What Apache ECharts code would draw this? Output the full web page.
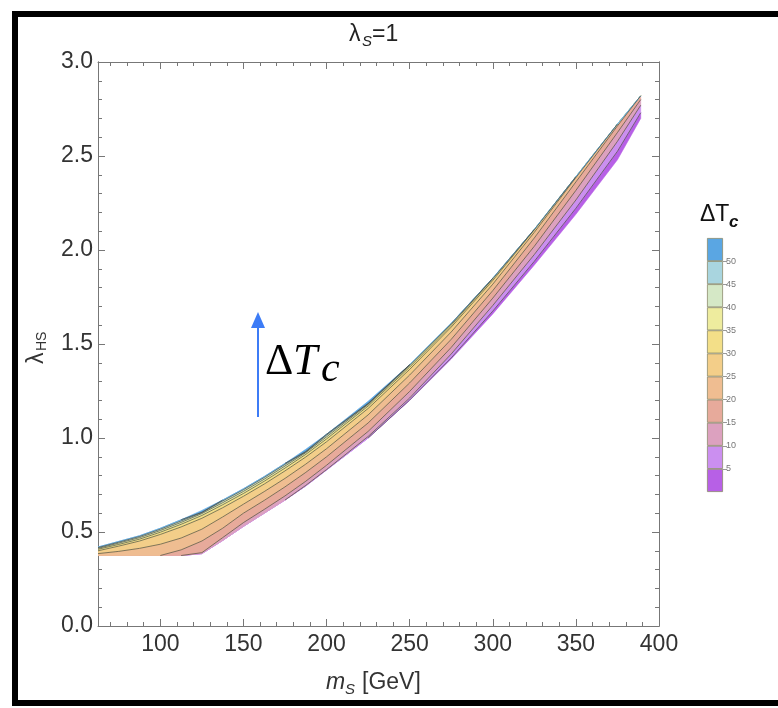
<!DOCTYPE html>
<html><head><meta charset="utf-8">
<script src="https://cdn.jsdelivr.net/npm/echarts@6/dist/echarts.min.js"></script>
<style>html,body{margin:0;padding:0;background:#fff}#c{width:778px;height:708px}</style>
</head><body><div id="c"></div>
<script>
// ---- data ----
const mS = [62.5,75,87.5,100,112.5,125,137.5,150,162.5,175,187.5,200,225,250,275,300,325,350,375,389];
const edgeTop    = [0.42,0.45,0.48,0.52,0.565,0.615,0.67,0.73,0.795,0.865,0.94,1.02,1.195,1.39,1.61,1.85,2.11,2.39,2.67,2.82];
const edgeBottom = [0.375,0.375,0.375,0.375,0.375,0.385,0.455,0.53,0.60,0.67,0.745,0.83,1.00,1.20,1.42,1.66,1.92,2.19,2.48,2.70];
const c5  = [0.375,0.375,0.375,0.375,0.375,0.385,0.455,0.53,0.60,0.67,0.745,0.83,1.00,1.202,1.426,1.675,1.94,2.222,2.525,2.73];
const c10 = [0.375,0.375,0.375,0.375,0.375,0.385,0.455,0.53,0.60,0.67,0.748,0.832,1.008,1.213,1.447,1.705,1.976,2.266,2.578,2.77];
const c15 = [0.375,0.375,0.375,0.375,0.375,0.39,0.47,0.55,0.62,0.692,0.77,0.855,1.035,1.248,1.482,1.744,2.02,2.317,2.625,2.80];
const c20 = [0.375,0.375,0.375,0.375,0.405,0.452,0.52,0.60,0.668,0.74,0.817,0.90,1.08,1.293,1.525,1.784,2.064,2.362,2.66,2.82];
const c25 = [0.385,0.397,0.413,0.435,0.468,0.515,0.58,0.648,0.715,0.785,0.861,0.943,1.123,1.335,1.564,1.818,2.094,2.385,2.67,2.82];
const c30 = [0.40,0.425,0.452,0.487,0.527,0.573,0.629,0.69,0.755,0.825,0.899,0.98,1.157,1.365,1.59,1.838,2.107,2.39,2.67,2.82];
const c35 = [0.408,0.434,0.462,0.499,0.541,0.588,0.645,0.705,0.77,0.84,0.913,0.995,1.17,1.377,1.60,1.847,2.11,2.39,2.67,2.82];
const c40 = [0.413,0.441,0.47,0.508,0.551,0.598,0.656,0.716,0.781,0.851,0.922,1.006,1.178,1.385,1.607,1.85,2.11,2.39,2.67,2.82];
const c45 = [0.417,0.446,0.476,0.515,0.559,0.603,0.665,0.725,0.79,0.86,0.926,1.015,1.182,1.39,1.61,1.85,2.11,2.39,2.67,2.82];
const c50 = [0.42,0.45,0.48,0.52,0.565,0.605,0.67,0.73,0.795,0.865,0.928,1.02,1.184,1.39,1.61,1.85,2.11,2.39,2.67,2.82];
const levels = [0,5,10,15,20,25,30,35,40,45,50,55];
const levelColors = ['#b760e6','#cb8ff0','#dca1bf','#e7aa9b','#efbd91','#f3ce89','#f3df88','#eeec9e','#d5e8c6','#a9d5df','#5aa6e3'];
const xMajor = [100,150,200,250,300,350,400];
const xMinor = [70,80,90,110,120,130,140,160,170,180,190,210,220,230,240,260,270,280,290,310,320,330,340,360,370,380,390];
const cbTicks = [5,10,15,20,25,30,35,40,45,50];

// ---- chart ----
const curves = [edgeBottom,c5,c10,c15,c20,c25,c30,c35,c40,c45,c50,edgeTop];
const contours = [c5,c10,c15,c20,c25,c30,c35,c40,c45,c50];
const chart = echarts.init(document.getElementById('c'), null, {renderer:'canvas'});
const FRAME = '#777';
const FONT = 'Liberation Sans, Arial, sans-serif';
const SERIF = 'Liberation Serif, Times New Roman, serif';

function xAx(pos, vals, len, labels, line){
  return {type:'value', gridIndex:0, position:pos, min:62.5, max:400,
    axisLine:{show:line, onZero:false, lineStyle:{color:FRAME,width:1}},
    axisTick:{show:true, inside:true, length:len, customValues:vals, lineStyle:{color:FRAME,width:1}},
    axisLabel:{show:labels, customValues:vals, fontFamily:FONT, fontSize:23, color:'#333', margin:7},
    splitLine:{show:false}};
}
function yAx(pos, labels){
  return {type:'value', gridIndex:0, position:pos, min:0, max:3, interval:0.5,
    axisLine:{show:true, onZero:false, lineStyle:{color:FRAME,width:1}},
    axisTick:{show:true, inside:true, length:7, lineStyle:{color:FRAME,width:1}},
    minorTick:{show:true, splitNumber:5, length:4, lineStyle:{color:FRAME,width:1}},
    axisLabel:{show:labels, fontFamily:FONT, fontSize:23, color:'#333', margin:5, formatter:v=>v.toFixed(1)},
    splitLine:{show:false}, minorSplitLine:{show:false}};
}

const bandSeries = {
  type:'custom', coordinateSystem:'cartesian2d', xAxisIndex:0, yAxisIndex:0, clip:true, silent:true,
  data: levelColors.map((c,i)=>[mS[0], curves[i][0], i]),
  encode:{x:0,y:1},
  renderItem(params, api){
    const i = params.dataIndex, lo = curves[i], hi = curves[i+1];
    const pts = [];
    for (let k=0;k<mS.length;k++) pts.push(api.coord([mS[k], lo[k]]));
    for (let k=mS.length-1;k>=0;k--) pts.push(api.coord([mS[k], hi[k]]));
    return {type:'polygon', shape:{points:pts}, style:{fill:levelColors[i], stroke:levelColors[i], lineWidth:0.6}};
  }
};
const lineSeries = {
  type:'custom', coordinateSystem:'cartesian2d', xAxisIndex:0, yAxisIndex:0, clip:true, silent:true,
  data: contours.map((c,i)=>[mS[0], c[0], i]),
  encode:{x:0,y:1},
  renderItem(params, api){
    const c = contours[params.dataIndex];
    const inside = k => c[k] > edgeBottom[k] + 1e-6 && c[k] < edgeTop[k] - 1e-6;
    const children = [];
    for (let k=0;k<mS.length-1;k++){
      if (inside(k) || inside(k+1)){
        const a = api.coord([mS[k],c[k]]), b = api.coord([mS[k+1],c[k+1]]);
        children.push({type:'line', shape:{x1:a[0],y1:a[1],x2:b[0],y2:b[1]},
          style:{stroke:'rgba(70,72,60,0.75)', lineWidth:0.9}});
      }
    }
    return {type:'group', children};
  }
};

const cbSeries = levelColors.map((col,i)=>({
  type:'bar', xAxisIndex:4, yAxisIndex:4, stack:'cb', barWidth:16, silent:true,
  data:[levels[i+1]-levels[i]],
  itemStyle:{color:col, borderColor:'#8b8a6c', borderWidth:0.8}
}));

const option = {
  animation:false,
  backgroundColor:'#fff',
  grid:[{left:98, top:62, width:561, height:564},
        {left:707, top:238, width:16, height:254}],
  xAxis:[xAx('bottom', xMajor, 7, true, true), xAx('bottom', xMinor, 4, false, false),
         xAx('top', xMajor, 7, false, true), xAx('top', xMinor, 4, false, false),
         {type:'category', gridIndex:1, data:['cb'], show:false}],
  yAxis:[yAx('left', true), yAx('right', false), yAx('left', false), yAx('right', false),
         {type:'value', gridIndex:1, min:0, max:55, position:'right',
          axisLine:{show:false}, splitLine:{show:false},
          axisTick:{show:true, inside:false, length:4, customValues:cbTicks, lineStyle:{color:'#999'}},
          axisLabel:{customValues:cbTicks, fontFamily:FONT, fontSize:9, color:'#777', margin:3}}],
  series:[bandSeries, lineSeries, ...cbSeries],
  graphic:[
    {type:'rect', shape:{x:15, y:14, width:800, height:689}, style:{fill:'none', stroke:'#000', lineWidth:6}, silent:true},
    // title
    {type:'text', x:349, y:35, style:{text:'λ', fontFamily:FONT, fontSize:23, fill:'#222', verticalAlign:'middle'}},
    {type:'text', x:362, y:42, style:{text:'S', fontFamily:FONT, fontStyle:'italic', fontSize:15, fill:'#222', verticalAlign:'middle'}},
    {type:'text', x:372, y:35, style:{text:'=1', fontFamily:FONT, fontSize:23, fill:'#222', verticalAlign:'middle'}},
    // x axis name
    {type:'text', x:326, y:683, style:{text:'m', fontFamily:FONT, fontStyle:'italic', fontSize:23, fill:'#333', verticalAlign:'middle'}},
    {type:'text', x:345, y:690, style:{text:'S', fontFamily:FONT, fontStyle:'italic', fontSize:15, fill:'#333', verticalAlign:'middle'}},
    {type:'text', x:362, y:683, style:{text:'[GeV]', fontFamily:FONT, fontSize:23, fill:'#333', verticalAlign:'middle'}},
    // y axis name
    {type:'group', x:37, y:347, rotation:Math.PI/2, children:[
      {type:'text', x:-17, y:0, style:{text:'λ', fontFamily:FONT, fontSize:23, fill:'#333', verticalAlign:'middle'}},
      {type:'text', x:-4, y:5, style:{text:'HS', fontFamily:FONT, fontSize:14, fill:'#333', verticalAlign:'middle'}}
    ]},
    // arrow annotation
    {type:'line', shape:{x1:258, y1:417, x2:258, y2:326}, style:{stroke:'#3d7cf6', lineWidth:2}},
    {type:'polygon', shape:{points:[[251,328],[265,328],[258,312]]}, style:{fill:'#3d7cf6'}},
    {type:'text', x:265, y:362, style:{text:'Δ', fontFamily:SERIF, fontSize:44, fill:'#000', verticalAlign:'middle'}},
    {type:'text', x:293, y:362, style:{text:'T', fontFamily:SERIF, fontStyle:'italic', fontSize:44, fill:'#000', verticalAlign:'middle'}},
    {type:'text', x:321, y:370, style:{text:'c', fontFamily:SERIF, fontStyle:'italic', fontSize:42, fill:'#000', verticalAlign:'middle'}},
    // colorbar title
    {type:'text', x:700, y:215, style:{text:'ΔT', fontFamily:FONT, fontSize:23, fill:'#111', verticalAlign:'middle'}},
    {type:'text', x:729, y:222, style:{text:'c', fontFamily:FONT, fontStyle:'italic', fontWeight:'bold', fontSize:17, fill:'#111', verticalAlign:'middle'}}
  ]
};
chart.setOption(option);
</script></body></html>
